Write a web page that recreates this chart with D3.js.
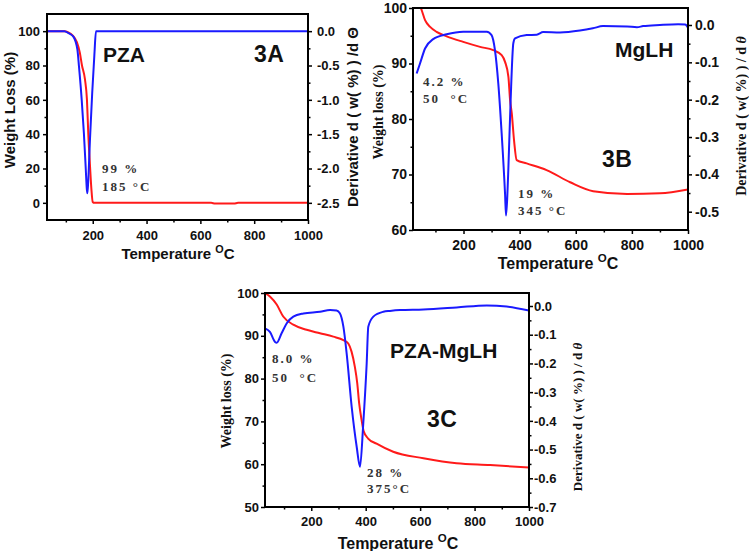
<!DOCTYPE html>
<html><head><meta charset="utf-8">
<script src="https://cdn.jsdelivr.net/npm/d3@7"></script>
<style>body{margin:0;background:#fff;} svg{display:block;}</style>
</head><body>
<svg id="c" width="749" height="551"></svg>
<script>
// ---------- DATA ----------
const tempTicks = [200, 400, 600, 800, 1000];
const tempMinor = [100, 300, 500, 700, 900];

// Panel 3A : PZA  ([temperature °C, value])
const pzaWeight = [[30,100],[95,100],[108,99.4],[125,97.6],[141,93.6],[152,87.5],[160,80],[171,72],[178.5,60],[183.5,40],[190,21],[195,8],[200,0.5],[206,0],[640,0],[655,-0.4],[725,-0.4],[740,0],[1000,0]];
const pzaDeriv = [[30,0],[95,0],[110,-0.03],[128,-0.08],[143,-0.27],[149,-0.52],[159,-1.0],[167,-1.48],[174,-2.0],[178,-2.3],[180,-2.36],[183,-2.2],[190,-1.55],[198,-0.9],[206,-0.35],[212,0],[1000,0]];
const pzaWeightTicks = [0, 20, 40, 60, 80, 100];
const pzaDerivTicks = [0, -0.5, -1.0, -1.5, -2.0, -2.5];

// Panel 3B : MgLH
const mglhWeight = [[40,101],[51,99.6],[63,97.8],[81,96.6],[104,95.7],[140,94.9],[199,93.9],[259,93.0],[306,92.4],[336,91.5],[348,90.3],[360,87.6],[366,83.4],[372,81.0],[380,76.2],[389.5,72.6],[425,72.0],[496,70.8],[580,68.6],[662,67.0],[783,66.5],[900,66.6],[1000,67.3]];
const mglhDeriv = [[33,-0.13],[45,-0.103],[63,-0.063],[92,-0.038],[140,-0.025],[199,-0.018],[283,-0.018],[300,-0.027],[312,-0.067],[324,-0.157],[336,-0.291],[348,-0.452],[351.5,-0.51],[356,-0.46],[360,-0.381],[368,-0.2],[377.5,-0.049],[383.5,-0.036],[425,-0.027],[461,-0.026],[484,-0.019],[544,-0.02],[615,-0.015],[661,-0.009],[697,-0.003],[783,-0.004],[818,-0.006],[840,-0.003],[900,0],[965,0.002],[990,0.001],[1000,-0.007]];
const mglhWeightTicks = [60, 70, 80, 90, 100];
const mglhDerivTicks = [0, -0.1, -0.2, -0.3, -0.4, -0.5];

// Panel 3C : PZA-MgLH
const compWeight = [[30,100],[48,99.2],[73,97.3],[97,94.5],[134,92.6],[183,91.4],[232,90.6],[281,89.8],[318,89.0],[336,88.2],[348,86.3],[360,82.8],[369,78.9],[376,74.2],[385,70.3],[393,67.6],[409,66.0],[440,64.8],[501,62.9],[612,61.4],[734,60.2],[857,59.8],[1000,59.2]];
const compDeriv = [[30,-0.078],[48,-0.09],[67,-0.125],[73,-0.128],[91,-0.095],[110,-0.06],[134,-0.037],[171,-0.026],[232,-0.02],[269,-0.014],[293,-0.016],[305,-0.025],[318,-0.072],[330,-0.165],[348.5,-0.351],[367,-0.491],[379,-0.56],[391,-0.41],[403.6,-0.2],[409.5,-0.072],[428,-0.037],[465,-0.02],[489,-0.017],[526,-0.014],[612,-0.012],[734,-0.005],[845,0.002],[918,-0.002],[1000,-0.016]];
const compWeightTicks = [50, 60, 70, 80, 90, 100];
const compDerivTicks = [0, -0.1, -0.2, -0.3, -0.4, -0.5, -0.6, -0.7];

// Text
const panelNames = ["PZA", "MgLH", "PZA-MgLH"];
const panelTags = ["3A", "3B", "3C"];
const annotations = [
  ["99 %", "185 °C"], ["4.2 %", "50  °C"], ["19 %", "345 °C"], ["8.0 %", "50  °C"], ["28 %", "375°C"]
];

// ---------- DRAW ----------
const svg = d3.select("#c");
svg.append("rect").attr("width",749).attr("height",551).attr("fill","#fff");
const SANS = "'Liberation Sans', Arial, sans-serif";
const SERIF = "'Liberation Serif', 'Times New Roman', serif";
const fmt1 = v => (Math.abs(v) < 1e-9 ? 0 : v).toFixed(1);

function drawPanel(p, idx) {
  const g = svg.append("g");
  const x = d3.scaleLinear().domain(p.tDom).range([p.x0, p.x1]);
  const yw = d3.scaleLinear().domain(p.wDom).range([p.y1, p.y0]);
  const yd = d3.scaleLinear().domain(p.dDom).range([p.y1, p.y0]);

  const clipId = "clip" + idx;
  g.append("clipPath").attr("id", clipId).append("rect")
    .attr("x", p.x0).attr("y", p.y0).attr("width", p.x1 - p.x0).attr("height", p.y1 - p.y0);

  const lw = d3.line().x(d => x(d[0])).y(d => yw(d[1])).curve(d3.curveMonotoneX);
  const ld = d3.line().x(d => x(d[0])).y(d => yd(d[1])).curve(d3.curveMonotoneX);
  const cg = g.append("g").attr("clip-path", `url(#${clipId})`);
  cg.append("path").datum(p.weight).attr("d", lw).attr("fill","none").attr("stroke","#ff1a1a").attr("stroke-width",2);
  cg.append("path").datum(p.deriv).attr("d", ld).attr("fill","none").attr("stroke","#1a1aff").attr("stroke-width",2);

  function style(sel, size) {
    sel.select(".domain").remove();
    sel.selectAll("line").attr("stroke","#000").attr("stroke-width",1.5);
    sel.selectAll("text").attr("font-family", SANS).attr("font-weight","bold")
      .attr("font-size", size).attr("fill","#111");
  }
  // bottom axis
  g.append("g").attr("transform",`translate(0,${p.y1})`)
    .call(d3.axisBottom(x).tickValues(tempTicks).tickSize(4).tickPadding(p.xPad).tickFormat(d3.format("d")))
    .call(s => style(s, p.tickFont));
  g.append("g").attr("transform",`translate(0,${p.y1})`)
    .call(d3.axisBottom(x).tickValues(tempMinor).tickSize(2.5).tickFormat(""))
    .call(s => style(s, p.tickFont));
  // left axis
  const wMinor = p.wTicks.slice(1).map((v,i) => (v + p.wTicks[i]) / 2);
  g.append("g").attr("transform",`translate(${p.x0},0)`)
    .call(d3.axisLeft(yw).tickValues(p.wTicks).tickSize(4).tickPadding(p.lPad).tickFormat(d3.format("d")))
    .call(s => style(s, p.tickFont));
  g.append("g").attr("transform",`translate(${p.x0},0)`)
    .call(d3.axisLeft(yw).tickValues(wMinor).tickSize(2.5).tickFormat(""))
    .call(s => style(s, p.tickFont));
  // right axis
  const dMinor = p.dTicks.slice(1).map((v,i) => (v + p.dTicks[i]) / 2);
  g.append("g").attr("transform",`translate(${p.x1},0)`)
    .call(d3.axisRight(yd).tickValues(p.dTicks).tickSize(4).tickPadding(p.rPad).tickFormat(fmt1))
    .call(s => style(s, p.tickFont));
  g.append("g").attr("transform",`translate(${p.x1},0)`)
    .call(d3.axisRight(yd).tickValues(dMinor).tickSize(2.5).tickFormat(""))
    .call(s => style(s, p.tickFont));

  // frame
  g.append("rect").attr("x", p.x0).attr("y", p.y0).attr("width", p.x1 - p.x0).attr("height", p.y1 - p.y0)
    .attr("fill","none").attr("stroke","#000").attr("stroke-width",2);

  // axis titles
  const lt = p.leftTitle;
  g.append("text").attr("transform",`translate(${lt.x},${lt.y}) rotate(-90)`).attr("dy","0.35em")
    .attr("text-anchor","middle").attr("font-family", lt.serif ? SERIF : SANS).attr("font-weight","bold")
    .attr("font-size", lt.size).attr("fill","#111").text(lt.text);
  const rt = p.rightTitle;
  const rtext = g.append("text").attr("transform",`translate(${rt.x},${rt.y}) rotate(-90)`).attr("dy","0.35em")
    .attr("text-anchor","middle").attr("font-family", rt.serif ? SERIF : SANS).attr("font-weight","bold")
    .attr("font-size", rt.size).attr("fill","#111");
  rtext.append("tspan").text(rt.text);
  rtext.append("tspan").attr("font-style", rt.serif ? "italic" : "normal").text(rt.sym);
  const bt = p.bottomTitle;
  const btext = g.append("text").attr("x", bt.x).attr("y", bt.y).attr("dy","0.35em")
    .attr("text-anchor","middle").attr("font-family", SANS).attr("font-weight","bold")
    .attr("font-size", bt.size).attr("fill","#111");
  btext.append("tspan").text("Temperature ");
  btext.append("tspan").attr("font-size", bt.size * 0.72).attr("dy", -bt.size * 0.42).text("O");
  btext.append("tspan").attr("dy", bt.size * 0.42).text("C");

  // name / tag
  g.append("text").attr("x", p.name.x).attr("y", p.name.y).attr("font-family", SANS).attr("font-weight","bold")
    .attr("font-size", 21).attr("fill","#111").text(panelNames[idx]);
  g.append("text").attr("x", p.tag.x).attr("y", p.tag.y).attr("font-family", SANS).attr("font-weight","bold")
    .attr("font-size", 23).attr("letter-spacing", 0.5).attr("fill","#111").text(panelTags[idx]);

  // annotations
  p.notes.forEach(n => {
    const lines = annotations[n.k];
    lines.forEach((t, j) => {
      g.append("text").attr("x", n.x).attr("y", n.y + j * n.gap)
        .attr("font-family", SERIF).attr("font-weight","bold").attr("font-size", 13)
        .attr("letter-spacing", 2).attr("fill","#333").attr("xml:space","preserve")
        .style("white-space","pre").text(t);
    });
  });
}

const panels = [
  { x0:47, x1:308, y0:14, y1:220, tDom:[30,1000], wDom:[-10,110], dDom:[-2.75,0.25],
    weight:pzaWeight, deriv:pzaDeriv, wTicks:pzaWeightTicks, dTicks:pzaDerivTicks,
    tickFont:13, xPad:7, lPad:3, rPad:5,
    leftTitle:{text:"Weight Loss (%)", x:10, y:110, size:15, serif:false},
    rightTitle:{text:"Derivative d ( w( %) ) /d ", sym:"Θ", x:353, y:117, size:15, serif:false},
    bottomTitle:{x:178, y:254, size:15},
    name:{x:103, y:62}, tag:{x:254, y:62},
    notes:[{k:0, x:102, y:173, gap:18}] },
  { x0:413, x1:688, y0:8, y1:230, tDom:[20,1000], wDom:[60,100], dDom:[-0.549,0.0455],
    weight:mglhWeight, deriv:mglhDeriv, wTicks:mglhWeightTicks, dTicks:mglhDerivTicks,
    tickFont:14, xPad:6, lPad:2, rPad:3,
    leftTitle:{text:"Weight loss (%)", x:378, y:112, size:14, serif:true},
    rightTitle:{text:"Derivative d ( w( %) ) / d ", sym:"θ", x:741, y:116, size:14, serif:true},
    bottomTitle:{x:558, y:263, size:16},
    name:{x:615, y:57}, tag:{x:602, y:167},
    notes:[{k:1, x:423, y:86, gap:17}, {k:2, x:518, y:198, gap:17}] },
  { x0:265, x1:529, y0:293, y1:507, tDom:[30,1000], wDom:[50,100], dDom:[-0.7,0.0453],
    weight:compWeight, deriv:compDeriv, wTicks:compWeightTicks, dTicks:compDerivTicks,
    tickFont:13, xPad:6, lPad:2, rPad:1,
    leftTitle:{text:"Weight loss (%)", x:226, y:401, size:14, serif:true},
    rightTitle:{text:"Derivative d ( w( %) ) / d ", sym:"θ", x:577, y:417, size:13, serif:true},
    bottomTitle:{x:398, y:543, size:16},
    name:{x:390, y:358}, tag:{x:427, y:427},
    notes:[{k:3, x:272, y:363, gap:19}, {k:4, x:367, y:477, gap:16}] }
];
panels.forEach(drawPanel);
</script>
</body></html>
